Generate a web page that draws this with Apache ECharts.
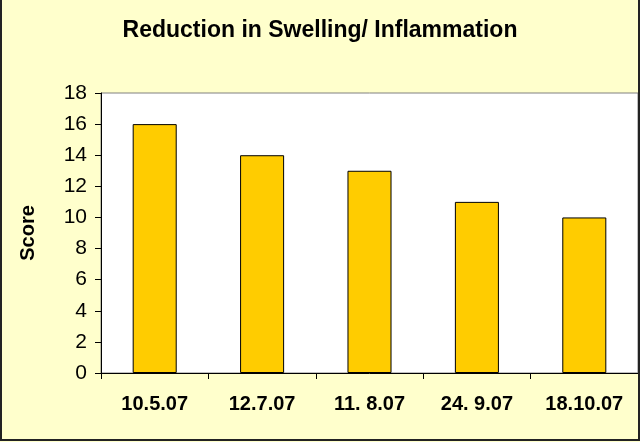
<!DOCTYPE html>
<html><head><meta charset="utf-8">
<script src="https://cdn.jsdelivr.net/npm/echarts@6/dist/echarts.min.js"></script>
<style>html,body{margin:0;padding:0;background:#FFFFCC}#c{width:640px;height:442px}</style>
</head><body><div id="c"></div>
<script>
var categories = ['10.5.07', '12.7.07', '11. 8.07', '24. 9.07', '18.10.07'];
var scores = [16, 14, 13, 11, 10];
var titleText = 'Reduction in Swelling/ Inflammation';
var yName = 'Score';

var FONT = 'Liberation Sans, Arial';
var chart = echarts.init(document.getElementById('c'), null, {renderer: 'canvas'});
chart.setOption({
  backgroundColor: '#FFFFCC',
  animation: false,
  title: {
    text: titleText, left: 'center', top: 14,
    textStyle: {fontFamily: FONT, fontWeight: 'bold', fontSize: 23, color: '#000'}
  },
  grid: {left: 101, top: 93, right: 2, bottom: 69, show: true, backgroundColor: '#fff', borderColor: '#808080', borderWidth: 1},
  xAxis: {
    type: 'category', data: categories,
    axisLine: {lineStyle: {color: '#000', width: 1}},
    axisTick: {show: true, alignWithLabel: false, length: 6, lineStyle: {color: '#000'}},
    axisLabel: {fontFamily: FONT, fontWeight: 'bold', fontSize: 20, color: '#000', margin: 21}
  },
  yAxis: {
    type: 'value', min: 0, max: 18, interval: 2,
    name: yName, nameLocation: 'middle', nameGap: 63, nameRotate: 90,
    nameTextStyle: {fontFamily: FONT, fontWeight: 'bold', fontSize: 20, color: '#000'},
    axisLine: {show: true, lineStyle: {color: '#000', width: 1}},
    axisTick: {show: true, length: 6, lineStyle: {color: '#000'}},
    axisLabel: {fontFamily: FONT, fontSize: 21, color: '#000', margin: 14},
    splitLine: {show: false}
  },
  series: [{
    type: 'bar', data: scores, barWidth: '41%',
    itemStyle: {color: '#FFCC00', borderColor: '#000', borderWidth: 1}
  }],
  graphic: [{
    type: 'rect', shape: {x: 1, y: -5, width: 638, height: 445},
    style: {fill: 'none', stroke: '#222', lineWidth: 2}, z: 100
  }]
});
</script></body></html>
